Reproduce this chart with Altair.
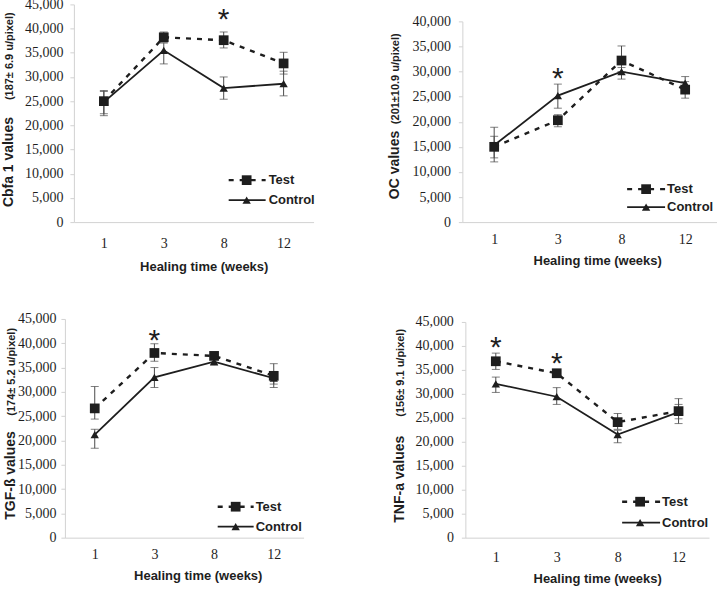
import altair as alt
import pandas as pd

weeks = ["1", "3", "8", "12"]

# Panel A: Cbfa 1
cbfa_test = [25000, 38200, 37600, 32800]
cbfa_test_lo = [22400, 37200, 36000, 30600]
cbfa_test_hi = [27200, 39300, 39300, 35100]
cbfa_ctrl = [24800, 35500, 27700, 28600]
cbfa_ctrl_lo = [22000, 32700, 25400, 26100]
cbfa_ctrl_hi = [27000, 37000, 30000, 31200]
cbfa_star_weeks = ["8"]
cbfa_star_vals = [43300]

# Panel B: OC
oc_test = [15000, 20300, 32200, 26400]
oc_test_lo = [12800, 19000, 30000, 24700]
oc_test_hi = [17100, 21400, 35100, 28000]
oc_ctrl = [15300, 25200, 30000, 27700]
oc_ctrl_lo = [12000, 22700, 28500, 26600]
oc_ctrl_hi = [18900, 27500, 30800, 29000]
oc_star_weeks = ["3"]
oc_star_vals = [30000]

# Panel C: TGF-ß
tgf_test = [26600, 38000, 37400, 33300]
tgf_test_lo = [24400, 36300, 36800, 30900]
tgf_test_hi = [31100, 39900, 37800, 35800]
tgf_ctrl = [21200, 33000, 36200, 32800]
tgf_ctrl_lo = [18400, 30900, 35500, 31600]
tgf_ctrl_hi = [22300, 35000, 37000, 33900]
tgf_star_weeks = ["3"]
tgf_star_vals = [41900]

# Panel D: TNF-a
tnf_test = [36800, 34300, 24100, 26400]
tnf_test_lo = [35100, 33700, 22600, 23800]
tnf_test_hi = [38500, 34800, 25900, 29000]
tnf_ctrl = [32100, 29400, 21500, 26200]
tnf_ctrl_lo = [30300, 27800, 19800, 24800]
tnf_ctrl_hi = [33500, 31300, 22400, 27800]
tnf_star_weeks = ["1", "3"]
tnf_star_vals = [41100, 37600]

ticks45 = [0, 5000, 10000, 15000, 20000, 25000, 30000, 35000, 40000, 45000]
ticks40 = [0, 5000, 10000, 15000, 20000, 25000, 30000, 35000, 40000]
legend_labels = ["Test", "Control"]
x_title = "Healing time (weeks)"

INK = "#1e1e1e"
AXIS = "#d2d2d2"
SERIF = "Liberation Serif"
SANS = "Liberation Sans"


def panel(test, tlo, thi, ctrl, clo, chi, swk, sval, big, small, L):
    df = pd.DataFrame({
        "week": weeks * 2,
        "group": [legend_labels[0]] * 4 + [legend_labels[1]] * 4,
        "mean": test + ctrl,
        "lo": tlo + clo,
        "hi": thi + chi,
    })
    stars = pd.DataFrame({"week": swk, "value": sval})

    xaxis = alt.Axis(title=x_title, titleX=L["tx"], titleY=L["ty"],
                     titleAlign="center", titleBaseline="middle",
                     titleFont=SANS, titleFontSize=13, titleFontWeight="bold",
                     titleColor=INK, labelAngle=0, ticks=False, tickSize=0,
                     labelPadding=L["xpad"], labelFont=SERIF, labelFontSize=14,
                     labelColor=INK, domainColor=AXIS, grid=False)
    xscale = alt.Scale(type="point", range=L["xrange"], padding=0.5)
    yscale = alt.Scale(domain=[0, L["ymax"]], range=L["yrange"], nice=False, zero=True)
    yaxis = alt.Axis(values=L["yvals"], format=",.0f", title=None, grid=False,
                     domainColor=AXIS, tickColor=AXIS, tickSize=4,
                     labelPadding=L["ypad"], labelFont=SERIF, labelFontSize=14,
                     labelColor=INK, offset=L["yoff"])

    def X():
        return alt.X("week:N", sort=weeks, scale=xscale, axis=xaxis)

    def Y(field):
        return alt.Y(field + ":Q", scale=yscale, axis=yaxis)

    base = alt.Chart(df)
    line_test = base.transform_filter(alt.datum.group == "Test").mark_line(
        color=INK, strokeWidth=2.4, strokeDash=[5, 6]).encode(x=X(), y=Y("mean"))
    line_ctrl = base.transform_filter(alt.datum.group == "Control").mark_line(
        color=INK, strokeWidth=1.8).encode(x=X(), y=Y("mean"))
    err = base.mark_rule(color="#4a4a4a", strokeWidth=1).encode(
        x=X(), y=Y("lo"), y2="hi:Q")
    cap_lo = base.mark_tick(color="#4a4a4a", size=8, thickness=1).encode(x=X(), y=Y("lo"))
    cap_hi = base.mark_tick(color="#4a4a4a", size=8, thickness=1).encode(x=X(), y=Y("hi"))
    pts_test = base.transform_filter(alt.datum.group == "Test").mark_point(
        shape="square", filled=True, size=95, color=INK, opacity=1).encode(x=X(), y=Y("mean"))
    pts_ctrl = base.transform_filter(alt.datum.group == "Control").mark_point(
        shape="triangle-up", filled=True, size=70, color=INK, opacity=1).encode(
        x=X(), y=Y("mean"))
    star = alt.Chart(stars).mark_text(text="*", font=SANS, fontSize=30, color=INK,
                                      baseline="middle", dy=7).encode(x=X(), y=Y("value"))

    one = pd.DataFrame({"k": [0]})
    lx0, lx1, lsx, ltx, ly1, ly2 = L["leg"]
    leg_rule_t = alt.Chart(one).mark_rule(color=INK, strokeWidth=2.4, strokeDash=[5, 6]).encode(
        x=alt.value(lx0), x2=alt.value(lx1), y=alt.value(ly1))
    leg_rule_c = alt.Chart(one).mark_rule(color=INK, strokeWidth=1.8).encode(
        x=alt.value(lx0), x2=alt.value(lx1), y=alt.value(ly2))
    leg_sq = alt.Chart(one).mark_point(shape="square", filled=True, size=95, color=INK,
                                       opacity=1).encode(x=alt.value(lsx), y=alt.value(ly1))
    leg_tr = alt.Chart(one).mark_point(shape="triangle-up", filled=True, size=70, color=INK,
                                       opacity=1).encode(x=alt.value(lsx), y=alt.value(ly2))
    leg_t1 = alt.Chart(one).mark_text(font=SANS, fontSize=13, fontWeight="bold", color=INK,
                                      align="left", baseline="middle").encode(
        x=alt.value(ltx), y=alt.value(ly1), text=alt.value(legend_labels[0]))
    leg_t2 = alt.Chart(one).mark_text(font=SANS, fontSize=13, fontWeight="bold", color=INK,
                                      align="left", baseline="middle").encode(
        x=alt.value(ltx), y=alt.value(ly2), text=alt.value(legend_labels[1]))

    bx, by, sy = L["title"]
    t_big = alt.Chart(one).mark_text(angle=270, align="left", baseline="alphabetic",
                                     font=SANS, fontSize=14, fontWeight="bold",
                                     color=INK).encode(
        x=alt.value(bx), y=alt.value(by), text=alt.value(big))
    t_small = alt.Chart(one).mark_text(angle=270, align="right", baseline="alphabetic",
                                       font=SANS, fontSize=11, fontWeight="bold",
                                       color=INK).encode(
        x=alt.value(bx), y=alt.value(sy), text=alt.value(small))

    return alt.layer(line_test, line_ctrl, err, cap_lo, cap_hi, pts_test, pts_ctrl, star,
                     leg_rule_t, leg_rule_c, leg_sq, leg_tr, leg_t1, leg_t2, t_big, t_small
                     ).properties(width=L["w"], height=L["h"])


p1 = panel(cbfa_test, cbfa_test_lo, cbfa_test_hi, cbfa_ctrl, cbfa_ctrl_lo, cbfa_ctrl_hi,
           cbfa_star_weeks, cbfa_star_vals, "Cbfa 1 values", "(187\u00b1 6.9 u/pixel)",
           dict(w=249, h=218, xrange=[9, 249], yrange=[218, 0], ymax=45000, yvals=ticks45,
                yoff=-9, ypad=7, xpad=14, tx=139, ty=44,
                leg=[164, 201, 182, 204, 176, 196], title=[-52, 203, 8]))
p2 = panel(oc_test, oc_test_lo, oc_test_hi, oc_ctrl, oc_ctrl_lo, oc_ctrl_hi,
           oc_star_weeks, oc_star_vals, "OC values", "(201\u00b110.9 u/pixel)",
           dict(w=255, h=218, xrange=[0, 255], yrange=[218, 17], ymax=40000, yvals=ticks40,
                yoff=0, ypad=8, xpad=10, tx=135, ty=38,
                leg=[165, 203, 184, 205, 185, 203], title=[-63, 195, 29]))
p3 = panel(tgf_test, tgf_test_lo, tgf_test_hi, tgf_ctrl, tgf_ctrl_lo, tgf_ctrl_hi,
           tgf_star_weeks, tgf_star_vals, "TGF-\u00df values", "(174\u00b1 5.2 u/pixel)",
           dict(w=249, h=219, xrange=[0, 239], yrange=[219, 0], ymax=45000, yvals=ticks45,
                yoff=0, ypad=5, xpad=10, tx=133, ty=38,
                leg=[153, 189, 171, 191, 188, 208], title=[-50, 201, 9]))
p4 = panel(tnf_test, tnf_test_lo, tnf_test_hi, tnf_ctrl, tnf_ctrl_lo, tnf_ctrl_hi,
           tnf_star_weeks, tnf_star_vals, "TNF-a values", "(156\u00b1 9.1 u/pixel)",
           dict(w=255, h=219, xrange=[3, 247], yrange=[219, 3], ymax=45000, yvals=ticks45,
                yoff=-3, ypad=8, xpad=13, tx=135, ty=41,
                leg=[160, 198, 178, 200, 183, 204], title=[-58, 204, 10]))

chart = alt.concat(p1, p2, p3, p4, columns=2, bounds="flush",
                   spacing=alt.RowColnumber(row=97, column=149)).properties(
    padding={"left": 2, "top": -3, "right": 0, "bottom": 0},
    background="white",
).configure_view(stroke=None)

chart.save("out.html", embed_options={"renderer": "svg", "actions": False})
